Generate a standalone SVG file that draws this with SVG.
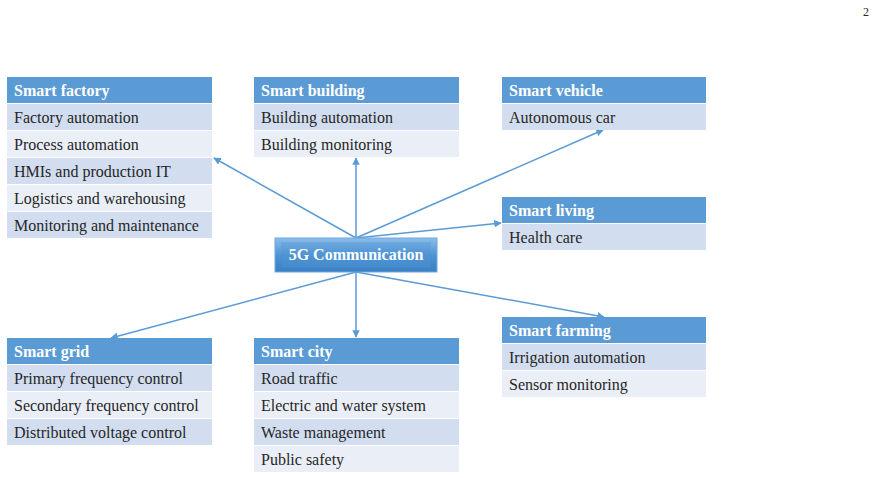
<svg xmlns="http://www.w3.org/2000/svg" width="877" height="478" viewBox="0 0 877 478">
<style>
.h{fill:#5B9BD5}
.a{fill:#D2DEEF}
.b{fill:#EAEFF7}
.ht{font-family:"Liberation Serif","Times New Roman","DejaVu Serif",serif;font-size:16px;font-weight:bold;fill:#fff}
.t{font-family:"Liberation Serif","Times New Roman","DejaVu Serif",serif;font-size:16px;fill:#262626}
.c{stroke:#5B9BD5;stroke-width:1.5;fill:none;marker-end:url(#ar)}
</style>
<defs>
<marker id="ar" viewBox="0 0 10 10" refX="9" refY="5" markerWidth="5" markerHeight="5" orient="auto" markerUnits="strokeWidth">
<path d="M0,0 L10,5 L0,10 z" fill="#5B9BD5"/>
</marker>
<linearGradient id="g5" x1="0" y1="0" x2="0" y2="1">
<stop offset="0" stop-color="#8DBDEA"/>
<stop offset="0.5" stop-color="#4E94D4"/>
<stop offset="1" stop-color="#3A7FC2"/>
</linearGradient>
</defs>
<rect width="877" height="478" fill="#fff"/>
<text x="866" y="16" font-family="Liberation Serif, serif" font-size="12" fill="#262626" text-anchor="middle">2</text>

<g id="connectors">
<line class="c" x1="356" y1="238" x2="214" y2="158"/>
<line class="c" x1="356" y1="238" x2="356" y2="158"/>
<line class="c" x1="356" y1="238" x2="603" y2="130"/>
<line class="c" x1="356" y1="238" x2="501" y2="223"/>
<line class="c" x1="356" y1="272" x2="111" y2="338"/>
<line class="c" x1="356" y1="272" x2="356" y2="337"/>
<line class="c" x1="356" y1="272" x2="604" y2="317"/>
</g>

<g id="center">
<rect x="275" y="238" width="162" height="34" fill="url(#g5)" stroke="#6FA8DC" stroke-width="1"/>
<rect x="281" y="242" width="150" height="26" fill="#4F95D5" opacity="0.35"/>
<text x="356" y="260" class="ht" text-anchor="middle">5G Communication</text>
</g>

<g id="smart-factory">
<rect class="h" x="7" y="77" width="205" height="26"/>
<text class="ht" x="14" y="96">Smart factory</text>
<rect class="a" x="7" y="104" width="205" height="26"/>
<text class="t" x="14" y="123">Factory automation</text>
<rect class="b" x="7" y="131" width="205" height="26"/>
<text class="t" x="14" y="150">Process automation</text>
<rect class="a" x="7" y="158" width="205" height="26"/>
<text class="t" x="14" y="177">HMIs and production IT</text>
<rect class="b" x="7" y="185" width="205" height="26"/>
<text class="t" x="14" y="204">Logistics and warehousing</text>
<rect class="a" x="7" y="212" width="205" height="26"/>
<text class="t" x="14" y="231">Monitoring and maintenance</text>
</g>

<g id="smart-building">
<rect class="h" x="254" y="77" width="205" height="26"/>
<text class="ht" x="261" y="96">Smart building</text>
<rect class="a" x="254" y="104" width="205" height="26"/>
<text class="t" x="261" y="123">Building automation</text>
<rect class="b" x="254" y="131" width="205" height="26"/>
<text class="t" x="261" y="150">Building monitoring</text>
</g>

<g id="smart-vehicle">
<rect class="h" x="502" y="77" width="204" height="26"/>
<text class="ht" x="509" y="96">Smart vehicle</text>
<rect class="a" x="502" y="104" width="204" height="26"/>
<text class="t" x="509" y="123">Autonomous car</text>
</g>

<g id="smart-living">
<rect class="h" x="502" y="197" width="204" height="26"/>
<text class="ht" x="509" y="216">Smart living</text>
<rect class="a" x="502" y="224" width="204" height="26"/>
<text class="t" x="509" y="243">Health care</text>
</g>

<g id="smart-farming">
<rect class="h" x="502" y="317" width="204" height="26"/>
<text class="ht" x="509" y="336">Smart farming</text>
<rect class="a" x="502" y="344" width="204" height="26"/>
<text class="t" x="509" y="363">Irrigation automation</text>
<rect class="b" x="502" y="371" width="204" height="26"/>
<text class="t" x="509" y="390">Sensor monitoring</text>
</g>

<g id="smart-grid">
<rect class="h" x="7" y="338" width="205" height="26"/>
<text class="ht" x="14" y="357">Smart grid</text>
<rect class="a" x="7" y="365" width="205" height="26"/>
<text class="t" x="14" y="384">Primary frequency control</text>
<rect class="b" x="7" y="392" width="205" height="26"/>
<text class="t" x="14" y="411">Secondary frequency control</text>
<rect class="a" x="7" y="419" width="205" height="26"/>
<text class="t" x="14" y="438">Distributed voltage control</text>
</g>

<g id="smart-city">
<rect class="h" x="254" y="338" width="205" height="26"/>
<text class="ht" x="261" y="357">Smart city</text>
<rect class="a" x="254" y="365" width="205" height="26"/>
<text class="t" x="261" y="384">Road traffic</text>
<rect class="b" x="254" y="392" width="205" height="26"/>
<text class="t" x="261" y="411">Electric and water system</text>
<rect class="a" x="254" y="419" width="205" height="26"/>
<text class="t" x="261" y="438">Waste management</text>
<rect class="b" x="254" y="446" width="205" height="26"/>
<text class="t" x="261" y="465">Public safety</text>
</g>
</svg>
